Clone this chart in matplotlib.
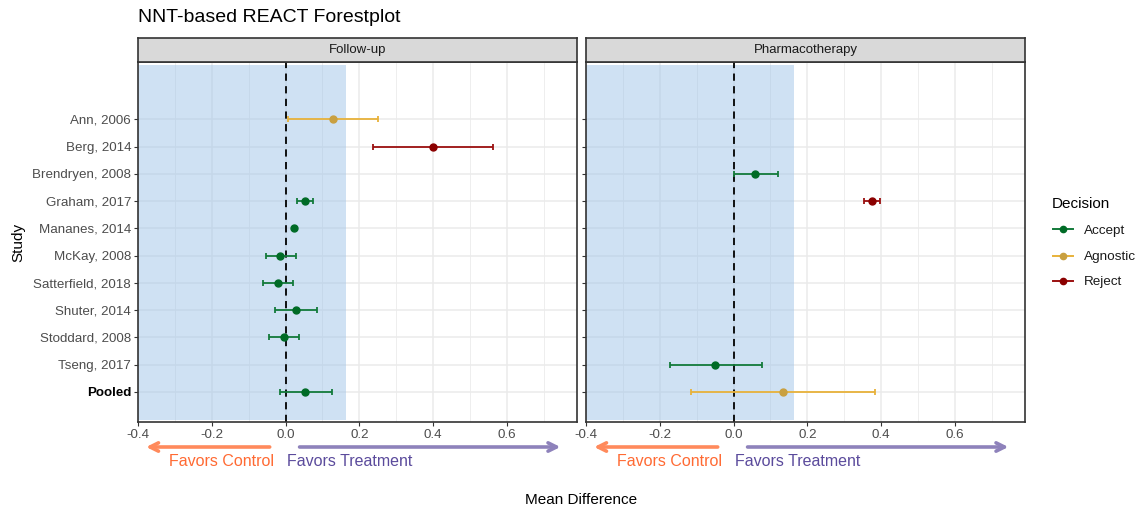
import matplotlib
matplotlib.use("Agg")
import matplotlib.pyplot as plt
from matplotlib.lines import Line2D
from matplotlib.patches import Rectangle
import numpy as np

plt.rcParams['font.family'] = ['Liberation Sans', 'DejaVu Sans']

studies = ["Ann, 2006", "Berg, 2014", "Brendryen, 2008", "Graham, 2017", "Mananes, 2014",
           "McKay, 2008", "Satterfield, 2018", "Shuter, 2014", "Stoddard, 2008", "Tseng, 2017", "Pooled"]

# Follow-up panel
fu_study = ["Ann, 2006", "Berg, 2014", "Graham, 2017", "Mananes, 2014", "McKay, 2008",
            "Satterfield, 2018", "Shuter, 2014", "Stoddard, 2008", "Pooled"]
fu_est = [0.128, 0.400, 0.052, 0.024, -0.014, -0.021, 0.027, -0.005, 0.054]
fu_lo = [0.006, 0.238, 0.030, 0.021, -0.052, -0.060, -0.028, -0.044, -0.015]
fu_hi = [0.250, 0.562, 0.074, 0.027, 0.027, 0.019, 0.085, 0.037, 0.125]
fu_dec = ["Agnostic", "Reject", "Accept", "Accept", "Accept", "Accept", "Accept", "Accept", "Accept"]

# Pharmacotherapy panel
ph_study = ["Brendryen, 2008", "Graham, 2017", "Tseng, 2017", "Pooled"]
ph_est = [0.059, 0.374, -0.049, 0.134]
ph_lo = [0.000, 0.353, -0.173, -0.116]
ph_hi = [0.120, 0.396, 0.078, 0.383]
ph_dec = ["Accept", "Reject", "Accept", "Agnostic"]

panels = ["Follow-up", "Pharmacotherapy"]
decisions = ["Accept", "Agnostic", "Reject"]
line_colors = {"Accept": "#137a3a", "Agnostic": "#e8b23a", "Reject": "#9b1010"}
point_colors = {"Accept": "#006b26", "Agnostic": "#c9a040", "Reject": "#8b0000"}

xticks = [-0.4, -0.2, 0.0, 0.2, 0.4, 0.6]
region_hi = 0.163

W, H = 1137, 509
fig = plt.figure(figsize=(W / 100, H / 100), dpi=100)

def fx(px):
    return px / W

def fy(py):
    return 1 - py / H

ypos = {s: len(studies) - 1 - i for i, s in enumerate(studies)}

panel_left = [138, 586]
panel_w = 439
top, bottom = 62, 422
strip_top = 38

data = [(fu_study, fu_est, fu_lo, fu_hi, fu_dec), (ph_study, ph_est, ph_lo, ph_hi, ph_dec)]

for k, (name, (st, est, lo, hi, dec)) in enumerate(zip(panels, data)):
    L = panel_left[k]
    ax = fig.add_axes([fx(L), fy(bottom), panel_w / W, (bottom - top) / H])
    ax.set_xlim(-0.4, 0.79)
    ax.set_ylim(-1.1, 12.1)
    ax.set_axisbelow(True)
    ax.set_xticks(xticks)
    ax.set_xticks([-0.3, -0.1, 0.1, 0.3, 0.5, 0.7], minor=True)
    ax.set_xticklabels([f"{v:.1f}" for v in xticks])
    ax.set_yticks([ypos[s] for s in studies])
    ax.grid(which='major', color='#ebebeb', lw=1.1)
    ax.grid(which='minor', axis='x', color='#ebebeb', lw=0.6)
    ax.tick_params(axis='both', which='major', length=3, width=0.8, color='#333333',
                   labelsize=9.6, labelcolor='#4d4d4d', pad=2)
    ax.tick_params(axis='x', which='minor', length=0)
    if k == 0:
        ax.set_yticklabels(studies)
        for lab in ax.get_yticklabels():
            if lab.get_text() == "Pooled":
                lab.set_fontweight("bold")
                lab.set_color("black")
    else:
        ax.set_yticklabels([])
    for sp in ax.spines.values():
        sp.set_color('#333333')
        sp.set_linewidth(1.2)
    ax.add_patch(Rectangle((-0.4, -1.02), region_hi + 0.4, 13.0, facecolor='#a0c4e8',
                           alpha=0.5, edgecolor='none', zorder=1.5))
    ax.axvline(0, color='black', ls=(0, (4, 3)), lw=1.3, zorder=2)
    for s, e, l, h, d in zip(st, est, lo, hi, dec):
        y = ypos[s]
        ax.errorbar([e], [y], xerr=[[e - l], [h - e]], fmt='none', ecolor=line_colors[d],
                    elinewidth=1.3, capsize=2, capthick=1.3, zorder=3)
        ax.plot([e], [y], 'o', color=point_colors[d], ms=5, zorder=4)

    # strip
    sax = fig.add_axes([fx(L), fy(top), panel_w / W, (top - strip_top) / H])
    sax.set_facecolor('#d9d9d9')
    sax.set_xticks([])
    sax.set_yticks([])
    for sp in sax.spines.values():
        sp.set_color('#333333')
        sp.set_linewidth(1.2)
    sax.text(0.5, 0.5, name, ha='center', va='center', fontsize=9.5, color='#1a1a1a',
             transform=sax.transAxes)

    # favors arrows
    ay = fy(447)
    ax.annotate('', xy=(-0.378, ay), xytext=(-0.043, ay),
                xycoords=('data', 'figure fraction'), textcoords=('data', 'figure fraction'),
                arrowprops=dict(arrowstyle='->,head_length=0.6,head_width=0.3',
                                color='#ff8a5c', lw=2.6, shrinkA=0, shrinkB=0),
                annotation_clip=False)
    ax.annotate('', xy=(0.745, ay), xytext=(0.038, ay),
                xycoords=('data', 'figure fraction'), textcoords=('data', 'figure fraction'),
                arrowprops=dict(arrowstyle='->,head_length=0.6,head_width=0.3',
                                color='#8e82bb', lw=2.6, shrinkA=0, shrinkB=0),
                annotation_clip=False)
    ty = fy(462)
    ax.annotate('Favors Control', xy=(-0.03, ty), xycoords=('data', 'figure fraction'),
                ha='right', va='center', fontsize=11.5, color='#ff6a33', annotation_clip=False)
    ax.annotate('Favors Treatment', xy=(0.005, ty), xycoords=('data', 'figure fraction'),
                ha='left', va='center', fontsize=11.5, color='#5b4b9c', annotation_clip=False)

fig.text(fx(138), fy(18), "NNT-based REACT Forestplot", fontsize=14, ha='left', va='center',
         color='black')
fig.text(fx(18), fy(242), "Study", rotation=90, fontsize=11, ha='center', va='center')
fig.text(fx(581), fy(500), "Mean Difference", fontsize=11, ha='center', va='center')

# legend (placed manually)
fig.text(fx(1052), fy(202), "Decision", fontsize=11, ha='left', va='center_baseline')
leg_y = [229.5, 255.5, 280.5]
for d, yy in zip(decisions, leg_y):
    fig.add_artist(Line2D([fx(1053), fx(1073)], [fy(yy), fy(yy)], color=line_colors[d],
                          lw=1.4, transform=fig.transFigure))
    fig.add_artist(Line2D([fx(1063)], [fy(yy)], marker='o', ms=4.5, color=point_colors[d],
                          transform=fig.transFigure))
    fig.text(fx(1084), fy(yy), d, fontsize=9.7, ha='left', va='center_baseline', color='#1a1a1a')

fig.savefig("out.png", dpi=100)
